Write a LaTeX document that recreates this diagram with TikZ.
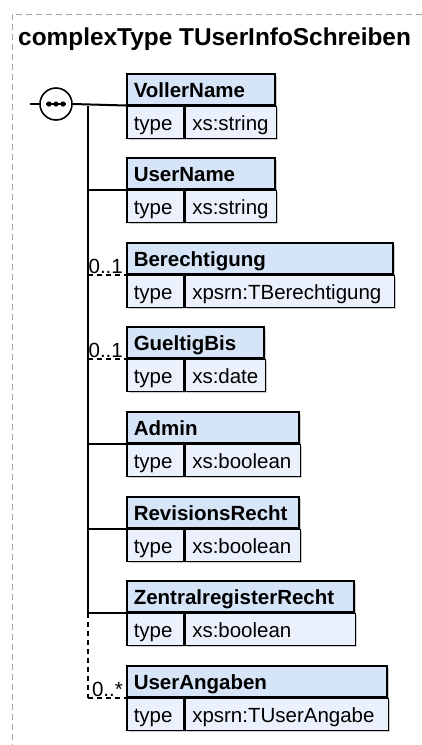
\documentclass[tikz,border=0pt]{standalone}
\usepackage{fontspec}
\setmainfont{Liberation Sans}
\usetikzlibrary{shadows}
\definecolor{hdrblue}{RGB}{214,228,248}
\definecolor{rowblue}{RGB}{234,241,252}
\definecolor{framegray}{RGB}{165,165,165}

\begin{document}
\begin{tikzpicture}[x=1pt,y=-1pt,
    cell/.style={draw,line width=1.5pt,anchor=north west,inner xsep=7pt,inner ysep=0pt,
      align=left,text height=21pt,text depth=4pt,
      drop shadow={shadow xshift=2pt,shadow yshift=-2pt,fill=black!40,opacity=0.5}},
    elname/.style={cell,fill=hdrblue,minimum height=31pt,font=\bfseries\fontsize{20.5}{24}\selectfont},
    elrow/.style={cell,fill=rowblue,minimum height=32pt,font=\fontsize{20.5}{24}\selectfont},
    conn/.style={line width=2pt},
    opt/.style={conn,dash pattern=on 5pt off 4pt},
    occ/.style={anchor=base east,inner sep=0pt,font=\fontsize{20.5}{24}\selectfont}]
\useasboundingbox (0,0) rectangle (422,745);
\draw[framegray,line width=1pt,dash pattern=on 6pt off 4pt] (422,14)--(12,14)--(12,745);
\node[anchor=base west,inner sep=0pt,font=\bfseries\fontsize{24.4}{28}\selectfont] (title) at (18,45)
    {complexType TUserInfoSchreiben};

% sequence
\coordinate (in) at (30,104);
\coordinate (spine) at (88,0);
\node[draw,circle,line width=1.6pt,fill=white,minimum size=32pt,inner sep=0pt] (seq) at (56,104) {};
\draw[line width=1.8pt] ([xshift=-10pt]seq.center)--([xshift=10pt]seq.center);
\fill ([xshift=-7pt]seq.center) circle (2.6pt);
\fill (seq.center) circle (2.6pt);
\fill ([xshift=7pt]seq.center) circle (2.6pt);

% elements
\node[elname,text width=134pt] (b1) at (126,73) {VollerName};
\node[elrow,text width=43pt] (t1) at (b1.south west) {type};
\node[elrow,text width=77pt] (v1) at (t1.north east) {xs:string};

\node[elname,text width=134pt] (b2) at (126,157) {UserName};
\node[elrow,text width=43pt] (t2) at (b2.south west) {type};
\node[elrow,text width=77pt] (v2) at (t2.north east) {xs:string};

\node[elname,text width=252pt] (b3) at (126,242) {Berechtigung};
\node[elrow,text width=43pt] (t3) at (b3.south west) {type};
\node[elrow,text width=195pt] (v3) at (t3.north east) {xpsrn:TBerechtigung};

\node[elname,text width=123pt] (b4) at (126,326) {GueltigBis};
\node[elrow,text width=43pt] (t4) at (b4.south west) {type};
\node[elrow,text width=66pt] (v4) at (t4.north east) {xs:date};

\node[elname,text width=158pt] (b5) at (126,411) {Admin};
\node[elrow,text width=43pt] (t5) at (b5.south west) {type};
\node[elrow,text width=101pt] (v5) at (t5.north east) {xs:boolean};

\node[elname,text width=158pt] (b6) at (126,496) {RevisionsRecht};
\node[elrow,text width=43pt] (t6) at (b6.south west) {type};
\node[elrow,text width=101pt] (v6) at (t6.north east) {xs:boolean};

\node[elname,text width=213pt] (b7) at (126,580) {ZentralregisterRecht};
\node[elrow,text width=43pt] (t7) at (b7.south west) {type};
\node[elrow,text width=156pt] (v7) at (t7.north east) {xs:boolean};

\node[elname,text width=246pt] (b8) at (126,665) {UserAngaben};
\node[elrow,text width=43pt] (t8) at (b8.south west) {type};
\node[elrow,text width=189pt] (v8) at (t8.north east) {xpsrn:TUserAngabe};

% connectors
\draw[conn] (in)--(seq.west);
\draw[conn] (seq.east)--(b1.south west);
\draw[conn] (spine |- b1.south west)--(spine |- b7.south west);
\draw[opt] (spine |- b7.south west)--(spine |- b8.south west);
\draw[conn] (spine |- b2.south west)--(b2.south west);
\draw[opt] (spine |- b3.south west)--(b3.south west);
\draw[opt] (spine |- b4.south west)--(b4.south west);
\draw[conn] (spine |- b5.south west)--(b5.south west);
\draw[conn] (spine |- b6.south west)--(b6.south west);
\draw[conn] (spine |- b7.south west)--(b7.south west);
\draw[opt] (spine |- b8.south west)--(b8.south west);
\node[occ] (o3) at ([xshift=-3pt,yshift=1.5pt]b3.south west) {0..1};
\node[occ] (o4) at ([xshift=-3pt,yshift=1.5pt]b4.south west) {0..1};
\node[occ] (o8) at ([xshift=-3pt,yshift=1.5pt]b8.south west) {0..*};
\end{tikzpicture}
\end{document}
